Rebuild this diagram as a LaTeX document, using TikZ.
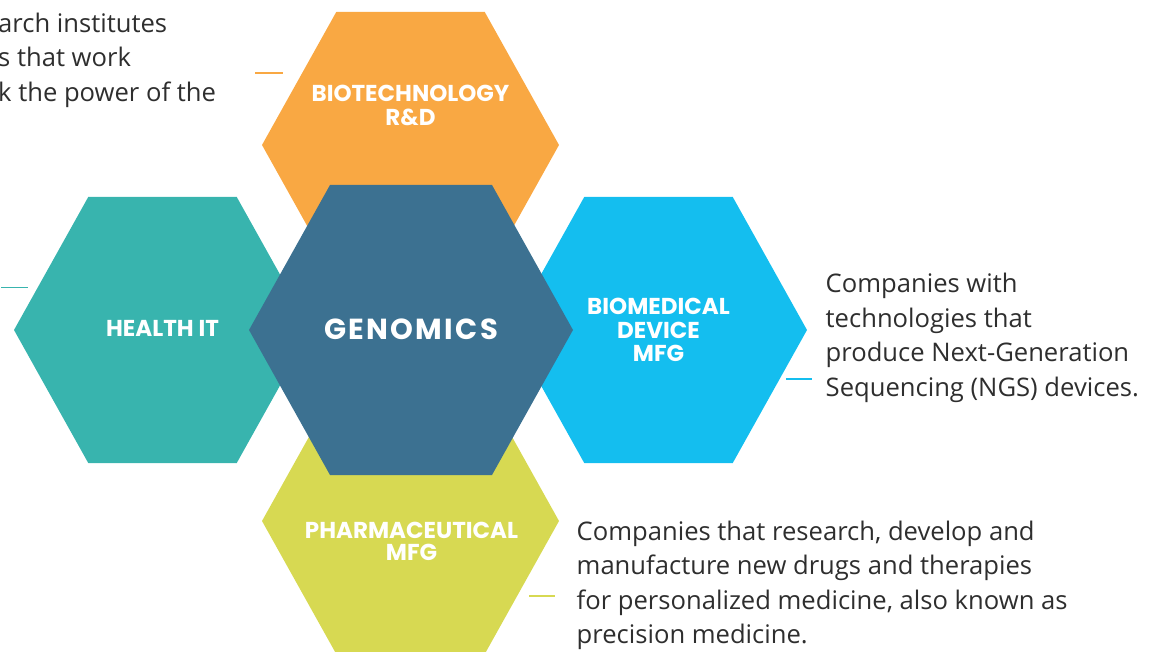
\documentclass[tikz,border=0pt]{standalone}
\usepackage{fontspec}
\setmainfont{Open Sans}
\newfontfamily\hexfont{Poppins}
\newfontfamily\genfont{Poppins}[LetterSpace=8]
\definecolor{hexorange}{HTML}{F9A843}
\definecolor{hexteal}{HTML}{38B4AE}
\definecolor{hexblue}{HTML}{14BEEF}
\definecolor{hexyellow}{HTML}{D7D952}
\definecolor{hexcenter}{HTML}{3C7191}
\definecolor{bodytext}{HTML}{2E2E2E}
\newcommand\hexpath[4]{(#1-#3,#2) -- (#1-#3/2,#2-#4) -- (#1+#3/2,#2-#4) -- (#1+#3,#2) -- (#1+#3/2,#2+#4) -- (#1-#3/2,#2+#4) -- cycle}
\tikzset{
  hexlabel/.style={anchor=base, inner sep=0pt, text=white, font=\hexfont\bfseries\fontsize{23}{24}\selectfont},
  desc/.style={anchor=base west, inner sep=0pt, text=bodytext, font=\fontsize{25.6}{34.5}\selectfont},
  tick/.style={line width=1.8pt}
}
\begin{document}
\begin{tikzpicture}[x=1pt,y=-1pt]
\useasboundingbox (0,0) rectangle (1157,652);
\clip (0,0) rectangle (1157,652);
% outer hexagons
\fill[hexorange] \hexpath{410.5}{145}{148.5}{133};
\fill[hexyellow] \hexpath{410.5}{521}{148.5}{133};
\fill[hexteal] \hexpath{162.5}{330}{148.5}{133};
\fill[hexblue] \hexpath{658.5}{330}{148.5}{133};
% center hexagon
\fill[hexcenter] \hexpath{411}{330}{162}{145};
% labels
\node[hexlabel] (biotech) at (410.5,102) {\begin{tabular}[t]{@{}c@{}}BIOTECHNOLOGY\\R\&D\end{tabular}};
\node[hexlabel] (healthit) at (162.5,337) {HEALTH IT};
\node[hexlabel, font=\genfont\bfseries\fontsize{29}{30}\selectfont] (genomics) at (411,340) {GENOMICS};
\node[hexlabel, font=\hexfont\bfseries\fontsize{23}{22.5}\selectfont] (biomed) at (658.5,315) {\begin{tabular}[t]{@{}c@{}}BIOMEDICAL\\DEVICE\\MFG\end{tabular}};
\node[hexlabel, font=\hexfont\bfseries\fontsize{23}{21.5}\selectfont] (pharma) at (411.5,538) {\begin{tabular}[t]{@{}c@{}}PHARMACEUTICAL\\MFG\end{tabular}};
% descriptions
\node[desc] (desctop) at (-2,32.3) {\begin{tabular}[t]{@{}l@{}}arch institutes\\s that work\\k the power of the\end{tabular}};
\node[desc] (descright) at (825.5,293) {\begin{tabular}[t]{@{}l@{}}Companies with\\technologies that\\produce Next-Generation\\Sequencing (NGS) devices.\end{tabular}};
\node[desc] (descbottom) at (576.5,540) {\begin{tabular}[t]{@{}l@{}}Companies that research, develop and\\manufacture new drugs and therapies\\for personalized medicine, also known as\\precision medicine.\end{tabular}};
% ticks
\coordinate (to1) at (255,72.7); \coordinate (to2) at (283,72.7);
\coordinate (tt1) at (1,287.5); \coordinate (tt2) at (28,287.5);
\coordinate (tb1) at (786,379); \coordinate (tb2) at (812,379);
\coordinate (ty1) at (529,595.7); \coordinate (ty2) at (555,595.7);
\draw[tick, hexorange] (to1) -- (to2);
\draw[tick, hexteal] (tt1) -- (tt2);
\draw[tick, hexblue] (tb1) -- (tb2);
\draw[tick, hexyellow] (ty1) -- (ty2);
\end{tikzpicture}
\end{document}
